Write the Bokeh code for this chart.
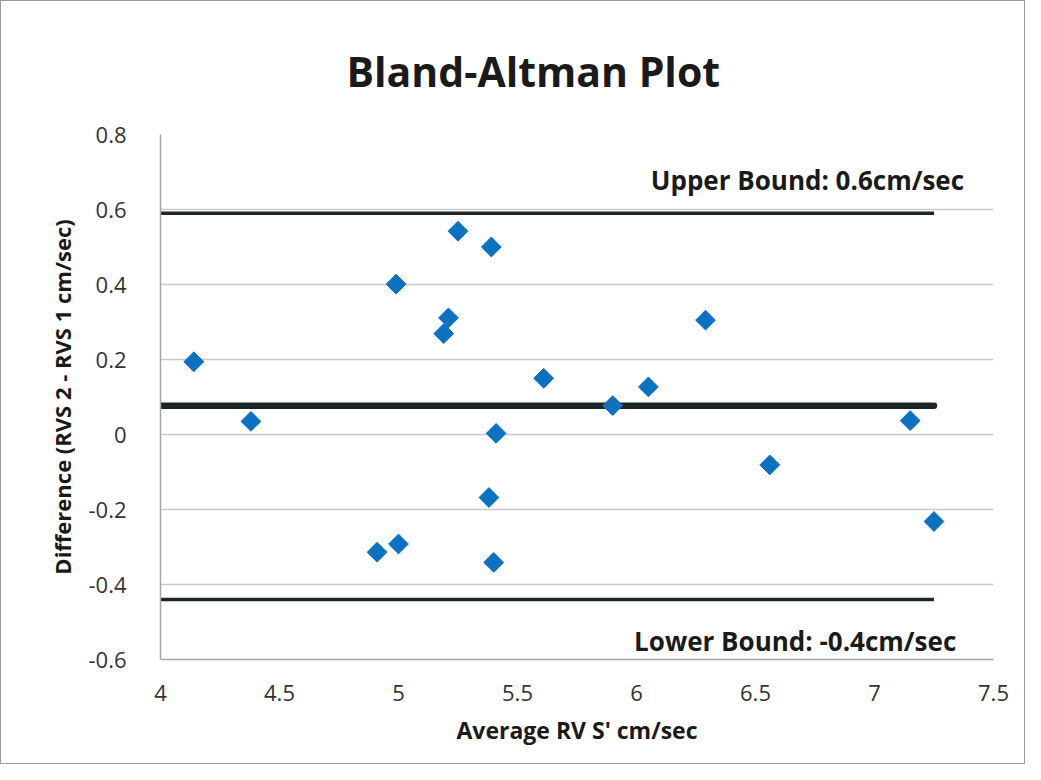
from bokeh.plotting import figure
from bokeh.models import FixedTicker, Label, Range1d
from bokeh.embed import file_html
from bokeh.resources import INLINE

# Data
avg_rvs = [4.14, 4.38, 4.99, 4.91, 5.00, 5.25, 5.21, 5.19, 5.39, 5.41,
           5.38, 5.40, 5.61, 5.90, 6.05, 6.29, 6.56, 7.15, 7.25]
diff_rvs = [0.194, 0.035, 0.401, -0.314, -0.292, 0.542, 0.311, 0.269, 0.50, 0.003,
            -0.168, -0.341, 0.15, 0.077, 0.127, 0.305, -0.081, 0.037, -0.232]

mean_diff = 0.077
upper_bound = 0.59
lower_bound = -0.44

x_ticks = [4, 4.5, 5, 5.5, 6, 6.5, 7, 7.5]
x_tick_labels = ["4", "4.5", "5", "5.5", "6", "6.5", "7", "7.5"]
y_ticks = [-0.6, -0.4, -0.2, 0, 0.2, 0.4, 0.6, 0.8]
y_tick_labels = ["-0.6", "-0.4", "-0.2", "0", "0.2", "0.4", "0.6", "0.8"]

upper_text = "Upper Bound: 0.6cm/sec"
lower_text = "Lower Bound: -0.4cm/sec"

FONT = "Open Sans"

p = figure(width=1025, height=764, output_backend="svg", toolbar_location=None,
           x_range=Range1d(4, 7.5), y_range=Range1d(-0.6, 0.8),
           min_border_left=159, min_border_right=33, min_border_top=133,
           min_border_bottom=106)

p.styles = {"border": "1px solid #9a9a9a"}

p.title.text = "Bland-Altman Plot"
p.title.text_font = FONT
p.title.text_font_size = "41px"
p.title.text_font_style = "bold"
p.title.text_color = "#1a1a1a"
p.title.align = "left"
p.title.offset = 186
p.title.vertical_align = "top"
p.title.standoff = 68

p.outline_line_color = None
p.background_fill_color = "white"
p.border_fill_color = "white"

# grids
p.xgrid.grid_line_color = None
p.ygrid.grid_line_color = "#c9c9c9"
p.ygrid.grid_line_width = 1.5
p.ygrid.ticker = FixedTicker(ticks=y_ticks)

# axes
p.xaxis.ticker = FixedTicker(ticks=x_ticks)
p.xaxis.major_label_overrides = {t: l for t, l in zip(x_ticks, x_tick_labels)}
p.yaxis.ticker = FixedTicker(ticks=y_ticks)
p.yaxis.major_label_overrides = {t: l for t, l in zip(y_ticks, y_tick_labels)}

for ax in (p.xaxis[0], p.yaxis[0]):
    ax.axis_line_color = "#a6a6a6"
    ax.axis_line_width = 1.5
    ax.major_tick_line_color = None
    ax.minor_tick_line_color = None
    ax.major_label_text_font = FONT
    ax.major_label_text_font_size = "22px"
    ax.major_label_text_color = "#333333"
    ax.axis_label_text_font = FONT
    ax.axis_label_text_font_style = "bold"
    ax.axis_label_text_color = "#1a1a1a"

p.xaxis.axis_label = "Average RV S' cm/sec"
p.xaxis.axis_label_text_font_size = "23px"
p.xaxis.major_label_standoff = 19
p.xaxis.axis_label_standoff = 10

p.yaxis.axis_label = "Difference (RVS 2 - RVS 1 cm/sec)"
p.yaxis.axis_label_text_font_size = "22px"
p.yaxis.major_label_standoff = 28
p.yaxis.axis_label_standoff = 8

# reference lines from x=4 to the largest average
x_end = max(avg_rvs)
line_color = "#1c2626"
p.line([4, x_end], [upper_bound, upper_bound], line_color=line_color, line_width=3.5)
p.line([4, x_end], [lower_bound, lower_bound], line_color=line_color, line_width=3.5)
p.line([4, x_end], [mean_diff, mean_diff], line_color=line_color, line_width=6.5,
       line_cap="round")

# points
p.scatter(avg_rvs, diff_rvs, marker="square", angle=0.785398, size=14,
          fill_color="#0b72c2", line_color="#0b72c2")

# annotations
p.add_layout(Label(x=6.06, y=0.68, text=upper_text, text_font=FONT,
                   text_font_size="26px", text_font_style="bold",
                   text_color="#1a1a1a", text_baseline="middle"))
p.add_layout(Label(x=5.99, y=-0.551, text=lower_text, text_font=FONT,
                   text_font_size="26px", text_font_style="bold",
                   text_color="#1a1a1a", text_baseline="middle"))

open("out.html", "w").write(file_html(p, INLINE))
